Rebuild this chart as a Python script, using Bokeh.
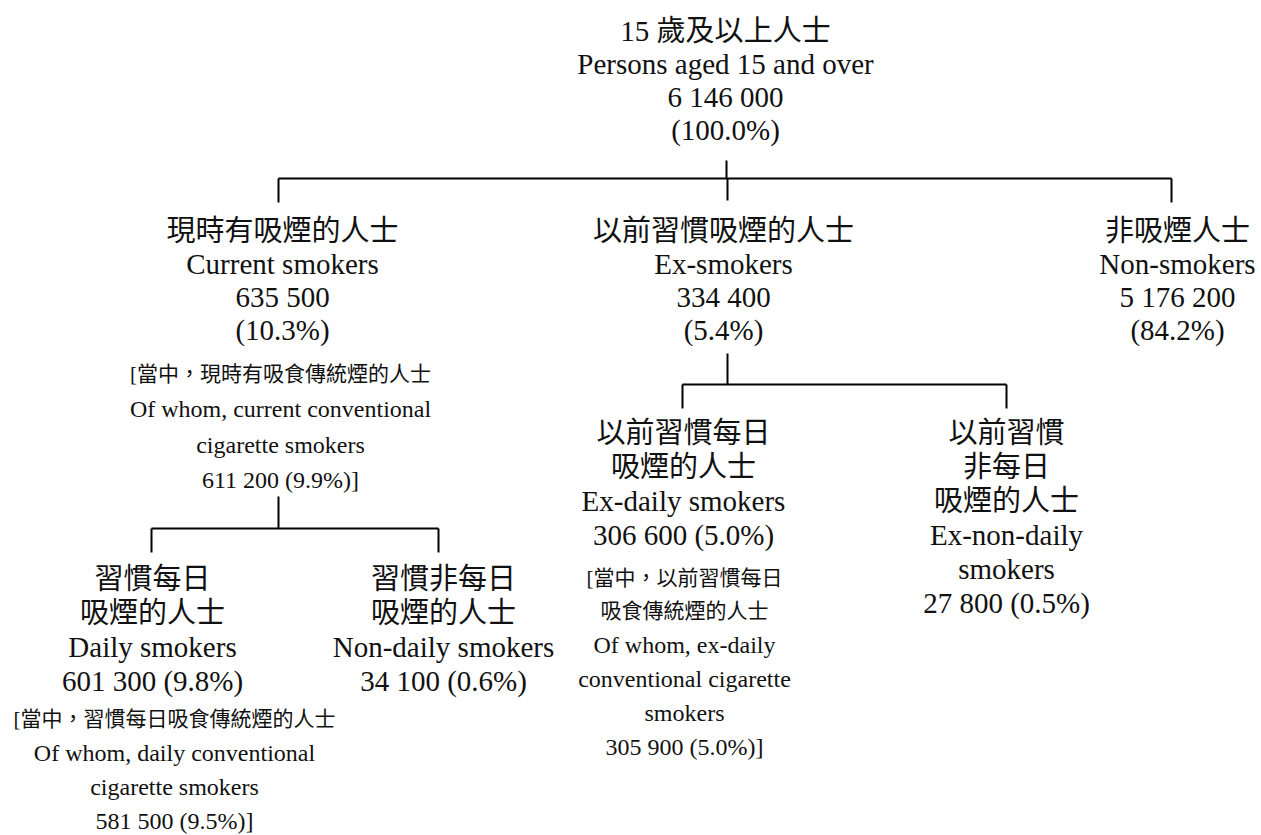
from bokeh.plotting import figure
from bokeh.models import Range1d, ColumnDataSource
from bokeh.core.properties import value
from bokeh.embed import file_html
from bokeh.resources import INLINE

# ---------------- data ----------------
zh_names = ["15 歲及以上人士", "現時有吸煙的人士", "以前習慣吸煙的人士", "非吸煙人士",
            "習慣每日吸煙的人士", "習慣非每日吸煙的人士", "以前習慣每日吸煙的人士", "以前習慣非每日吸煙的人士"]
en_names = ["Persons aged 15 and over", "Current smokers", "Ex-smokers", "Non-smokers",
            "Daily smokers", "Non-daily smokers", "Ex-daily smokers", "Ex-non-daily smokers"]
persons = [6146000, 635500, 334400, 5176200, 601300, 34100, 306600, 27800]
percent = [100.0, 10.3, 5.4, 84.2, 9.8, 0.6, 5.0, 0.5]
parent = [None, 0, 0, 0, 1, 1, 2, 2]

note_of = [1, 4, 6]
note_zh = ["當中，現時有吸食傳統煙的人士", "當中，習慣每日吸食傳統煙的人士", "當中，以前習慣每日吸食傳統煙的人士"]
note_en = ["Of whom, current conventional cigarette smokers",
           "Of whom, daily conventional cigarette smokers",
           "Of whom, ex-daily conventional cigarette smokers"]
note_persons = [611200, 581500, 305900]
note_percent = [9.9, 9.5, 5.0]

# ---------------- layout ----------------
node_x = [725, 282, 723, 1177, 152, 443, 683, 1006]
node_y = [30, 230, 230, 230, 578, 578, 432, 432]
node_dy = [33, 33.3, 33.3, 33.3, 34, 34, 34, 34]
zh_breaks = [[], [], [], [], [4], [5], [6], [4, 7]]
en_breaks = [[], [], [], [], [], [], [], [1]]
one_line_num = [False, False, False, False, True, True, True, True]

note_x = [280, 174, 684]
note_y = [373, 718, 577]
note_dy = [35.5, 34.2, 33.8]
note_zh_breaks = [[], [], [9]]
note_en_breaks = [[4], [4], [3, 5]]

link_x = [726, 278, 727, 1171, 151, 438, 682, 1006]
stub_bottom = [None, 202, 200, 202, 552, 552, 408, 408]
bar_y = {0: 178, 1: 528, 2: 384}
drop_top = {0: 160, 1: 496, 2: 353}

FONT = "'Liberation Serif', 'Noto Sans CJK TC', serif"
BIG = "29px"
NOTE_EN = "24px"
NOTE_ZH = "21px"


def fmt(n):
    return f"{n:,}".replace(",", " ")


def split_chars(s, brks):
    out, prev = [], 0
    for b in brks:
        out.append(s[prev:b])
        prev = b
    out.append(s[prev:])
    return out


def split_words(s, brks):
    w = s.split(" ")
    out, prev = [], 0
    for b in brks:
        out.append(" ".join(w[prev:b]))
        prev = b
    out.append(" ".join(w[prev:]))
    return out


xs, ys, txt, fs = [], [], [], []
for i in range(len(zh_names)):
    lines = split_chars(zh_names[i], zh_breaks[i]) + split_words(en_names[i], en_breaks[i])
    if one_line_num[i]:
        lines.append(f"{fmt(persons[i])} ({percent[i]:.1f}%)")
    else:
        lines += [fmt(persons[i]), f"({percent[i]:.1f}%)"]
    for k, t in enumerate(lines):
        xs.append(node_x[i]); ys.append(node_y[i] + k * node_dy[i]); txt.append(t); fs.append(BIG)

for j in range(len(note_of)):
    zl = split_chars(note_zh[j], note_zh_breaks[j])
    zl[0] = "[" + zl[0]
    el = split_words(note_en[j], note_en_breaks[j])
    lines = [(t, NOTE_ZH) for t in zl] + [(t, NOTE_EN) for t in el]
    lines.append((f"{fmt(note_persons[j])} ({note_percent[j]:.1f}%)]", NOTE_EN))
    for k, (t, f) in enumerate(lines):
        xs.append(note_x[j]); ys.append(note_y[j] + k * note_dy[j]); txt.append(t); fs.append(f)

# connectors
x0, y0, x1, y1 = [], [], [], []
for par, by in bar_y.items():
    kids = [c for c in range(len(parent)) if parent[c] == par]
    x0.append(link_x[par]); y0.append(drop_top[par]); x1.append(link_x[par]); y1.append(by)
    kx = [link_x[c] for c in kids]
    x0.append(min(kx)); y0.append(by); x1.append(max(kx)); y1.append(by)
    for c in kids:
        x0.append(link_x[c]); y0.append(by); x1.append(link_x[c]); y1.append(stub_bottom[c])

W, H = 1261, 835
p = figure(width=W, height=H, x_range=Range1d(0, W), y_range=Range1d(H, 0),
           output_backend="svg", toolbar_location=None, min_border=0,
           x_axis_type=None, y_axis_type=None, outline_line_color=None,
           background_fill_color="white", border_fill_color="white")
p.grid.visible = False

p.segment(x0=x0, y0=y0, x1=x1, y1=y1, line_color="#000000", line_width=2)

src = ColumnDataSource(dict(x=xs, y=ys, text=txt, fs=fs))
p.text(x="x", y="y", text="text", source=src, text_align="center", text_baseline="middle",
       text_font=value(FONT), text_font_size="fs", text_color="#111111")

open("out.html", "w").write(file_html(p, INLINE))
